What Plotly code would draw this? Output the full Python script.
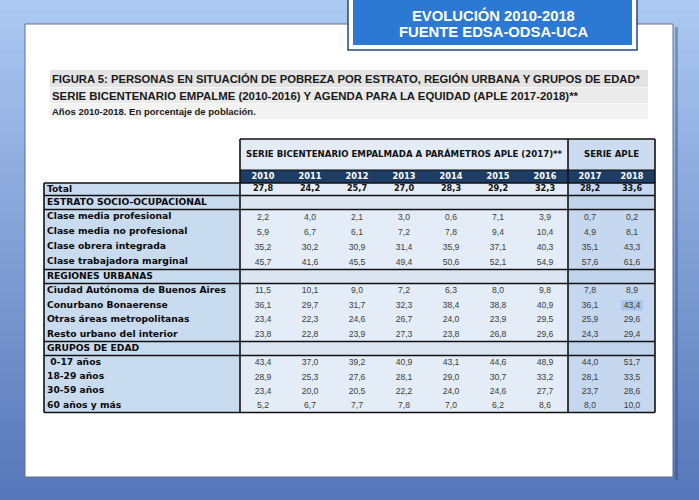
import plotly.graph_objects as go

# ---------------- data ----------------
box_lines = ["EVOLUCIÓN 2010-2018", "FUENTE EDSA-ODSA-UCA"]
caption_lines = [
    "FIGURA 5: PERSONAS EN SITUACIÓN DE POBREZA POR ESTRATO, REGIÓN URBANA Y GRUPOS DE EDAD*",
    "SERIE BICENTENARIO EMPALME (2010-2016) Y AGENDA PARA LA EQUIDAD (APLE 2017-2018)**",
    "Años 2010-2018. En porcentaje de población.",
]
series_headers = ["SERIE BICENTENARIO EMPALMADA A PARÁMETROS APLE (2017)**", "SERIE APLE"]
years = ["2010", "2011", "2012", "2013", "2014", "2015", "2016", "2017", "2018"]

total_label = "Total"
total = [27.8, 24.2, 25.7, 27.0, 28.3, 29.2, 32.3, 28.2, 33.6]

sections = ["ESTRATO SOCIO-OCUPACIONAL", "REGIONES URBANAS", "GRUPOS DE EDAD"]

estrato_labels = ["Clase media profesional", "Clase media no profesional",
                  "Clase obrera integrada", "Clase trabajadora marginal"]
estrato_values = [
    [2.2, 4.0, 2.1, 3.0, 0.6, 7.1, 3.9, 0.7, 0.2],
    [5.9, 6.7, 6.1, 7.2, 7.8, 9.4, 10.4, 4.9, 8.1],
    [35.2, 30.2, 30.9, 31.4, 35.9, 37.1, 40.3, 35.1, 43.3],
    [45.7, 41.6, 45.5, 49.4, 50.6, 52.1, 54.9, 57.6, 61.6],
]

region_labels = ["Ciudad Autónoma de Buenos Aires", "Conurbano Bonaerense",
                 "Otras áreas metropolitanas", "Resto urbano del interior"]
region_values = [
    [11.5, 10.1, 9.0, 7.2, 6.3, 8.0, 9.8, 7.8, 8.9],
    [36.1, 29.7, 31.7, 32.3, 38.4, 38.8, 40.9, 36.1, 43.4],
    [23.4, 22.3, 24.6, 26.7, 24.0, 23.9, 29.5, 25.9, 29.6],
    [23.8, 22.8, 23.9, 27.3, 23.8, 26.8, 29.6, 24.3, 29.4],
]

edad_labels = [" 0-17 años", "18-29 años", "30-59 años", "60 años y más"]
edad_values = [
    [43.4, 37.0, 39.2, 40.9, 43.1, 44.6, 48.9, 44.0, 51.7],
    [28.9, 25.3, 27.6, 28.1, 29.0, 30.7, 33.2, 28.1, 33.5],
    [23.4, 20.0, 20.5, 22.2, 24.0, 24.6, 27.7, 23.7, 28.6],
    [5.2, 6.7, 7.7, 7.8, 7.0, 6.2, 8.6, 8.0, 10.0],
]

# ---------------- layout constants ----------------
W, H = 699, 500
FONT = "Liberation Sans"
FONT_WIDE = "DejaVu Sans"
X_LEFT, X_LABEL, X_APLE, X_RIGHT = 44, 240, 568, 655
Y_HEAD, Y_YEARS, Y_BODY = 139, 170, 183
col_x = [263 + 47 * i for i in range(7)] + [590, 632]
row_h_total, row_h_section = 12.5, 14
row_h_data = [15, 14.5, 14.25]


def fmt(v):
    return f"{v:.1f}".replace(".", ",")


shapes = []


def rect(x0, y0, x1, y1, fill, line=None, lw=0):
    shapes.append(dict(type="rect", xref="x", yref="y", x0=x0, y0=y0, x1=x1, y1=y1,
                       fillcolor=fill, layer="below",
                       line=dict(color=line or fill, width=lw)))


def hline(y, x0=X_LEFT, x1=X_RIGHT, w=1.6):
    shapes.append(dict(type="line", xref="x", yref="y", x0=x0, x1=x1, y0=y, y1=y,
                       layer="below", line=dict(color="#111111", width=w)))


def vline(x, y0, y1, w=1.6):
    shapes.append(dict(type="line", xref="x", yref="y", x0=x, x1=x, y0=y0, y1=y1,
                       layer="below", line=dict(color="#111111", width=w)))


# slide background: vertical blue gradient
top, bot = (172, 201, 242), (86, 120, 186)
n = 50
for i in range(n):
    t = i / (n - 1)
    c = tuple(int(top[k] + (bot[k] - top[k]) * t) for k in range(3))
    rect(0, i * H / n, W, (i + 1) * H / n + 1, "rgb(%d,%d,%d)" % c)

# white panel
rect(675, 27, 678, 480, "rgba(40,60,100,0.35)")
rect(25, 24, 673, 477, "#FFFFFF", "#5E7090", 1)

# title box
rect(348, -5, 637, 50, "#FFFFFF", "#23477E", 1.5)
rect(353, -5, 632, 45, "#2B79D2", "#2B79D2", 0)

# caption bands
rect(50, 70, 648, 87, "#E3E3E3")
rect(50, 87.5, 648, 103, "#EBEBEB")
rect(50, 103.5, 648, 119, "#F3F3F3")

# ---- build rows ----
rows = []  # (kind, label, values, y0, y1)
y = Y_BODY
rows.append(("total", total_label, total, y, y + row_h_total))
y += row_h_total
for name, labels, vals, rh in zip(sections,
                                  [estrato_labels, region_labels, edad_labels],
                                  [estrato_values, region_values, edad_values],
                                  row_h_data):
    rows.append(("section", name, None, y, y + row_h_section))
    y += row_h_section
    for lab, v in zip(labels, vals):
        rows.append(("data", lab, v, y, y + rh))
        y += rh
Y_BOTTOM = y

# table backgrounds
rect(X_LABEL, Y_HEAD, X_APLE, Y_YEARS, "#E2EBF6")
rect(X_APLE, Y_HEAD, X_RIGHT, Y_YEARS, "#CCDCF0")
rect(X_LABEL, Y_YEARS, X_RIGHT, Y_BODY, "#1E3D64")
rect(X_LEFT, Y_BODY, X_LABEL, Y_BOTTOM, "#C9DBEF")
rect(X_LABEL, Y_BODY, X_APLE, Y_BOTTOM, "#E3ECF7")
rect(X_APLE, Y_BODY, X_RIGHT, Y_BOTTOM, "#C5D8EF")
for kind, lab, vals, y0, y1 in rows:
    if kind == "section":
        rect(X_LABEL, y0, X_APLE, y1, "#DCE6F3")
        rect(X_APLE, y0, X_RIGHT, y1, "#BFD3EC")
        hline(y0)
        hline(y1)

# selected cell highlight (Conurbano 2018)
rect(col_x[8] - 11, rows[8][3] + 2, col_x[8] + 11, rows[8][4] - 2, "#A9C6EC")

# borders
hline(Y_HEAD, X_LABEL, X_RIGHT)
hline(Y_YEARS, X_LABEL, X_RIGHT, 1)
hline(Y_BODY)
hline(Y_BOTTOM)
vline(X_LEFT, Y_BODY, Y_BOTTOM)
vline(X_LABEL, Y_HEAD, Y_BOTTOM)
vline(X_APLE, Y_HEAD, Y_BOTTOM)
vline(X_RIGHT, Y_HEAD, Y_BOTTOM)

fig = go.Figure()

# ---- text traces ----
lab_x, lab_y, lab_t = [], [], []
val_x, val_y, val_t = [], [], []
tot_x, tot_y, tot_t = [], [], []
for kind, lab, vals, y0, y1 in rows:
    yc = (y0 + y1) / 2
    lab_x.append(X_LEFT + 3)
    lab_y.append(yc)
    lab_t.append(lab)
    if vals is None:
        continue
    for cx, v in zip(col_x, vals):
        if kind == "total":
            tot_x.append(cx); tot_y.append(yc); tot_t.append(fmt(v))
        else:
            val_x.append(cx); val_y.append(yc + 0.5); val_t.append(fmt(v))

fig.add_trace(go.Scatter(x=lab_x, y=lab_y, text=lab_t, mode="text",
                         textposition="middle right", hoverinfo="skip",
                         textfont=dict(family=FONT_WIDE, size=9.2, color="#0A0A0A", weight="bold")))
fig.add_trace(go.Scatter(x=val_x, y=val_y, text=val_t, mode="text",
                         textposition="middle center", hoverinfo="skip",
                         textfont=dict(family=FONT, size=8.6, color="#3C3C3C")))
fig.add_trace(go.Scatter(x=tot_x, y=tot_y, text=tot_t, mode="text",
                         textposition="middle center", hoverinfo="skip",
                         textfont=dict(family=FONT_WIDE, size=8.2, color="#111111", weight="bold")))
fig.add_trace(go.Scatter(x=col_x, y=[(Y_YEARS + Y_BODY) / 2] * len(years), text=years,
                         mode="text", textposition="middle center", hoverinfo="skip",
                         textfont=dict(family=FONT_WIDE, size=8.2, color="#FFFFFF", weight="bold")))
fig.add_trace(go.Scatter(x=[(X_LABEL + X_APLE) / 2, (X_APLE + X_RIGHT) / 2],
                         y=[(Y_HEAD + Y_YEARS) / 2] * 2, text=series_headers,
                         mode="text", textposition="middle center", hoverinfo="skip",
                         textfont=dict(family=FONT_WIDE, size=8.6, color="#111111", weight="bold")))

# ---- titles ----
annotations = []
for i, t in enumerate(box_lines):
    annotations.append(dict(x=493, y=15 + i * 17, xref="x", yref="y", text=t,
                            showarrow=False, xanchor="center", yanchor="middle",
                            font=dict(family=FONT, size=14.8, color="#FFFFFF", weight="bold")))
cap_y = [78.5, 95.5, 111.5]
cap_size = [11.25, 11.4, 9.5]
for t, cy, cs in zip(caption_lines, cap_y, cap_size):
    annotations.append(dict(x=50, y=cy, xref="x", yref="y", text=t, showarrow=False,
                            xanchor="left", yanchor="middle",
                            font=dict(family=FONT, size=cs, color="#1A1A1A", weight="bold")))

fig.update_layout(
    width=W, height=H,
    margin=dict(l=0, r=0, t=0, b=0),
    paper_bgcolor="#7F9FD6",
    plot_bgcolor="rgba(0,0,0,0)",
    showlegend=False,
    shapes=shapes,
    annotations=annotations,
    xaxis=dict(range=[0, W], visible=False, fixedrange=True),
    yaxis=dict(range=[H, 0], visible=False, fixedrange=True),
)

fig.write_html("out.html", config={"displayModeBar": False},
               post_script="document.body.style.margin='0px';document.body.style.overflow='hidden';")
